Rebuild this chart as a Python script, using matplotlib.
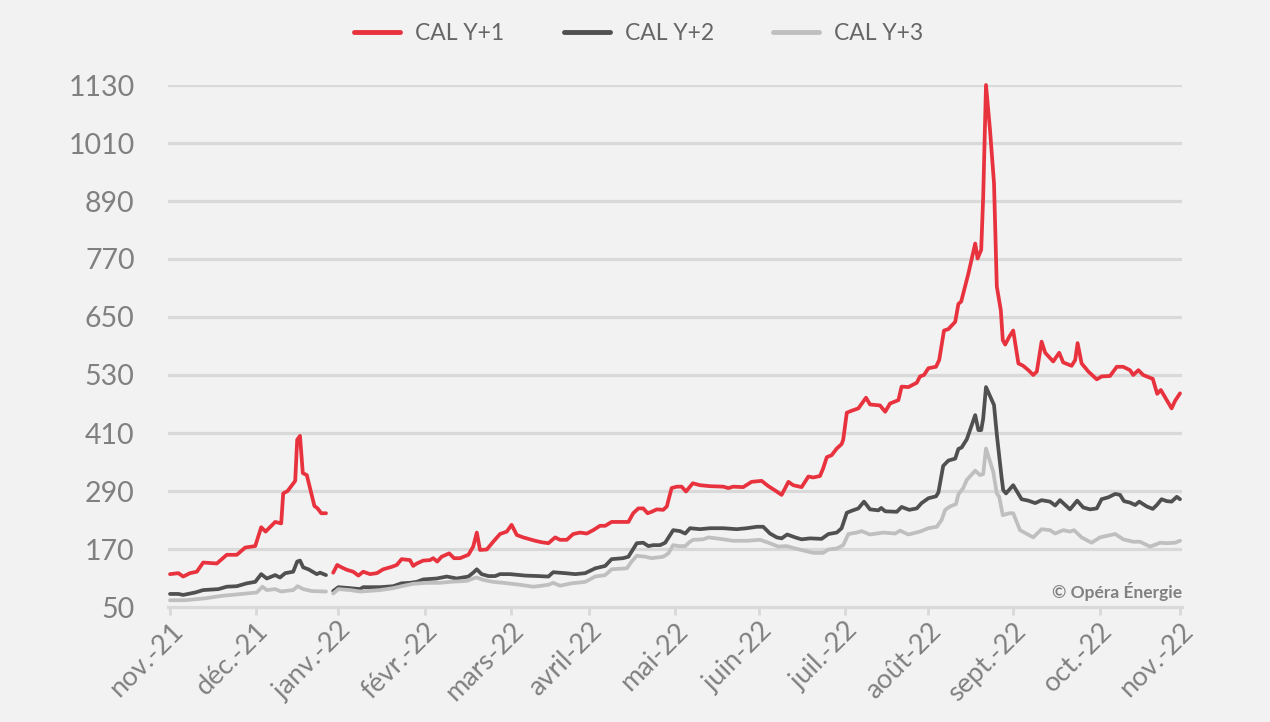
import numpy as np
import matplotlib
matplotlib.use("Agg")
import matplotlib.pyplot as plt

# ---------------- data ----------------
# x = trading-day index from 1 Nov 2021 (gap = year-end holidays, NaN)
month_pos = [0, 21.5, 42, 63.75, 85.25, 104.75, 126.25, 147.25, 168.75, 189.5, 210.75, 232.5, 252.5]
month_labels = ["nov.-21", "déc.-21", "janv.-22", "févr.-22", "mars-22", "avril-22", "mai-22",
                "juin-22", "juil.-22", "août-22", "sept.-22", "oct.-22", "nov.-22"]
y_ticks = [50, 170, 290, 410, 530, 650, 770, 890, 1010, 1130]

red_x = [0, 2.1, 3.3, 5, 6.7, 8.3, 11.7, 14.2, 16.7, 18.8, 21.3, 22.8, 23.9, 26.3, 27.8, 28.3, 29.4,
         31.3, 31.8, 32.5, 33.2, 34.2, 36.1, 36.9, 37.8, 39, 40,
         40.8, 41.8, 42.9, 44.2, 45.8, 47.1, 48.3, 50, 51.7, 53.3, 55.4, 56.7, 57.9, 60, 60.8, 61.7,
         63.3, 65, 65.8, 66.8, 67.9, 69.8, 71, 72.5, 74.6, 75.8, 76.7, 77.5, 79.2, 80.8, 82.5, 84.2,
         85.4, 86.7, 88.3, 90, 91.3, 92.9, 94.6, 96.3, 97.5, 99.2, 100.8, 102.5, 104.2, 105.8, 107.5,
         108.8, 110.4, 112.1, 114.6, 115.8, 117.1, 118.3, 119.4, 120.4, 121.7, 123.3, 124.2, 125.4,
         126.7, 127.9, 129, 130.7, 132.5, 135, 138.3, 139.6, 140.8, 143.3, 145.4, 147.9, 149.6, 151.3,
         152.9, 153.8, 154.6, 155.8, 157.9, 159.6, 160.8, 162.5, 163.3, 164.2, 165.4, 166.7, 167.9,
         168.3, 169.2, 170.4, 172.1, 174, 175, 177.5, 178.8, 180, 182.1, 182.9, 184.6, 186.7, 187.5,
         188.5, 189.6, 191.5, 192.3, 193.5, 194.6, 196.3, 197.1, 197.8, 199.6, 201.3, 201.9, 202.8,
         203.3, 204, 205, 206, 206.7, 207.7, 208.2, 208.8, 209.8, 210.8, 212.1, 213.3, 214.6, 215.8,
         216.7, 217.9, 218.8, 220.8, 222.3, 223.3, 225.4, 226.3, 226.9, 227.9, 229.6, 231.7, 232.9,
         235, 236.7, 238.3, 240, 240.8, 242.1, 243.3, 245.7, 246.8, 247.7, 250.4, 251.3, 252.5]
red_y = [118, 120, 113, 120, 123, 142, 140, 158, 158, 173, 176, 215, 206, 226, 223, 285, 290,
         311, 396, 404, 327, 323, 259, 254, 244, 244, np.nan,
         121, 137, 132, 127, 123, 115, 123, 118, 120, 128, 133, 137, 149, 147, 135, 140,
         146, 147, 151, 144, 154, 161, 151, 151, 158, 175, 204, 168, 169, 185, 201, 206,
         220, 199, 194, 190, 187, 184, 182, 194, 189, 189, 201, 204, 202, 209, 218,
         218, 226, 226, 226, 244, 254, 254, 244, 247, 252, 251, 258, 296,
         299, 299, 289, 306, 302, 300, 299, 296, 299, 298, 309, 311, 300, 291,
         282, 296, 309, 302, 298, 320, 318, 321, 337, 360, 364, 378, 387,
         396, 452, 456, 461, 483, 469, 467, 454, 471, 478, 506, 505, 514, 527,
         530, 544, 547, 561, 622, 625, 640, 677, 682, 740, 802, 771, 789,
         899, 1130, 1037, 927, 713, 664, 602, 593, 609, 622, 554, 549, 540, 530,
         537, 599, 576, 558, 576, 556, 549, 561, 596, 554, 537, 521, 527,
         528, 547, 547, 540, 530, 540, 530, 522, 491, 499, 461, 477, 492]

dark_x = [0, 2.1, 3.3, 6.3, 8.3, 12.1, 14.2, 16.7, 19.2, 21.3, 22.8, 24.2, 26.3, 27.5, 28.8, 30.8,
          31.8, 32.5, 33.3, 34.6, 36.7, 37.5, 39, 40,
          40.8, 42.1, 45, 47.5, 48.3, 52.5, 55.8, 57.9, 60, 61.7, 63.3, 66.7, 69.2, 71.7, 74.6, 75.8,
          76.7, 77.9, 79.6, 81.3, 82.5, 85, 87.5, 88.8, 92.1, 94.6, 95.8, 98.8, 101.3, 103.8, 106.3,
          108.8, 110.4, 113.3, 114.6, 116.7, 118.3, 119.6, 120.8, 122.5, 123.8, 125.8, 127.5, 128.8,
          130, 132.5, 135, 138.3, 141.7, 144.2, 146.7, 148.3, 150, 151.7, 152.9, 154.3, 156.3, 157.9,
          160, 162.9, 164.6, 166.7, 167.9, 169.2, 170.4, 172.1, 173.5, 175, 177.1, 177.8, 178.8, 181.7,
          182.9, 184.8, 186.7, 187.9, 189.6, 191.5, 192.1, 193.3, 194.6, 196.3, 197.1, 197.9, 199.2,
          201.3, 202.1, 202.8, 203.3, 204, 206, 206.7, 207.9, 208.3, 209, 210.8, 212.9, 214.6, 216.3,
          217.9, 220, 221.3, 222.5, 225, 226.8, 228.3, 230, 231.7, 232.9, 234.6, 236.3, 237.5, 238.5,
          240, 241.3, 242.3, 244.2, 245.7, 246.7, 247.9, 249.2, 250.4, 251.7, 252.5]
dark_y = [77, 77, 75, 80, 85, 87, 92, 93, 99, 102, 118, 109, 116, 111, 120, 123,
          144, 146, 132, 128, 118, 121, 116, np.nan,
          83, 91, 89, 87, 91, 91, 93, 99, 100, 102, 107, 109, 113, 109, 113, 121,
          128, 118, 114, 114, 118, 118, 116, 115, 114, 113, 122, 120, 118, 120, 130,
          135, 149, 151, 154, 182, 183, 176, 178, 178, 183, 209, 207, 202,
          213, 211, 213, 213, 211, 213, 216, 216, 202, 194, 192, 200, 194, 190,
          192, 191, 201, 204, 213, 245, 249, 254, 268, 252, 250, 255, 248, 247,
          257, 251, 254, 265, 275, 279, 287, 342, 353, 357, 377, 380, 397,
          447, 416, 416, 440, 505, 468, 407, 318, 292, 285, 302, 273, 270, 265,
          271, 268, 260, 271, 252, 270, 256, 252, 254, 273, 277, 284, 282, 269,
          266, 261, 268, 258, 253, 261, 273, 269, 268, 278, 273]

light_x = [0, 3.8, 8.8, 12.9, 17.9, 21.7, 23.1, 24.2, 26.3, 27.8, 29.6, 30.8, 31.9, 33.3, 35.4, 39, 40,
           40.8, 42.1, 45, 47.5, 52.5, 55.8, 57.9, 60.8, 64.2, 67.5, 70, 74.2, 75.8, 76.7, 78.3, 80.8,
           83.3, 85.4, 87.5, 90.8, 92.9, 94.6, 95.8, 97.5, 100.4, 103.8, 106.3, 108.8, 110.4, 114.2,
           115.4, 116.7, 118.8, 120.4, 123.3, 124.6, 125.8, 127.1, 128.8, 130, 130.8, 133.3, 134.6,
           137.5, 140.8, 144.2, 147.5, 149.6, 152.1, 154.2, 156.3, 158.3, 160.8, 163.3, 164.6, 166.7,
           168.3, 169.6, 171.7, 172.9, 175, 178.3, 181.3, 182.5, 184.6, 187.5, 189.6, 191.7, 192.9,
           193.8, 195, 196.5, 197.1, 198.3, 199.2, 201.3, 202.5, 203.3, 204, 205.8, 206.7, 207.3,
           208.2, 209.8, 210.8, 212.5, 215.8, 217.9, 220, 221.3, 223.3, 225, 226, 227.9, 230.4, 232.5,
           236.3, 238.3, 240.8, 242.5, 245, 246.7, 247.5, 249.2, 251.3, 252.5]
light_y = [64, 64, 68, 73, 77, 80, 92, 85, 87, 82, 84, 85, 93, 87, 83, 82, np.nan,
           78, 87, 85, 82, 85, 89, 93, 98, 100, 100, 102, 104, 109, 111, 106, 102,
           100, 98, 96, 92, 94, 96, 100, 94, 99, 102, 113, 116, 128, 130,
           144, 156, 154, 151, 154, 161, 178, 176, 176, 185, 189, 190, 194,
           191, 187, 187, 189, 183, 175, 176, 171, 167, 162, 162, 169, 171,
           178, 201, 204, 207, 200, 204, 202, 208, 200, 206, 213, 216, 230,
           251, 258, 263, 283, 296, 313, 332, 323, 325, 378, 330, 285, 278,
           240, 244, 244, 209, 194, 211, 209, 202, 209, 206, 209, 194, 183, 194,
           201, 190, 185, 185, 175, 180, 183, 182, 183, 187]

series_names = ["CAL Y+1", "CAL Y+2", "CAL Y+3"]

# ---------------- style ----------------
BG = "#f2f2f2"
GRID = "#d9d9d9"
TXT = "#808080"
colors = ["#e8333f", "#505050", "#bfbfbf"]

plt.rcParams["font.family"] = ["Lato", "DejaVu Sans"]

fig = plt.figure(figsize=(12.7, 7.22), dpi=100, facecolor=BG)
W, H = 1270, 722
ax = fig.add_axes([168 / W, 1 - 607 / H, (1182 - 168) / W, (607 - 85) / H])
ax.set_facecolor(BG)

ax.set_xlim(-0.5, 253)
ax.set_ylim(50, 1130)

for yv in y_ticks[1:]:
    ax.axhline(yv, color=GRID, lw=2.3, zorder=1)

for xs, ys, c, name in zip([red_x, dark_x, light_x], [red_y, dark_y, light_y], colors, series_names):
    ax.plot(xs, ys, color=c, lw=2.7, label=name, zorder=3, clip_on=False,
            solid_joinstyle="round", solid_capstyle="round")

for s in ["top", "right", "left"]:
    ax.spines[s].set_visible(False)
ax.spines["bottom"].set_color(GRID)
ax.spines["bottom"].set_linewidth(2.3)

ax.set_yticks(y_ticks)
ax.set_yticklabels([str(v) for v in y_ticks])
ax.tick_params(axis="y", length=0, pad=24, labelsize=20.5, labelcolor=TXT)

ax.set_xticks(month_pos)
ax.set_xticklabels(month_labels, rotation=45, ha="right", rotation_mode="anchor")
ax.tick_params(axis="x", length=6, width=2, color=GRID, pad=2, labelsize=19.5, labelcolor=TXT)

ax.text(1.0, 0.03, "© Opéra Énergie", transform=ax.transAxes, ha="right", va="center",
        fontsize=12.5, fontweight="bold", color=TXT)

leg = fig.legend(loc="center", bbox_to_anchor=(0.503, 1 - 34 / H), ncol=3, frameon=False,
                 fontsize=16.5, handlelength=2.0, handletextpad=0.65, columnspacing=2.6)
for t in leg.get_texts():
    t.set_color("#666666")
for l in leg.get_lines():
    l.set_linewidth(3.5)

fig.savefig("out.png", dpi=100, facecolor=BG)
